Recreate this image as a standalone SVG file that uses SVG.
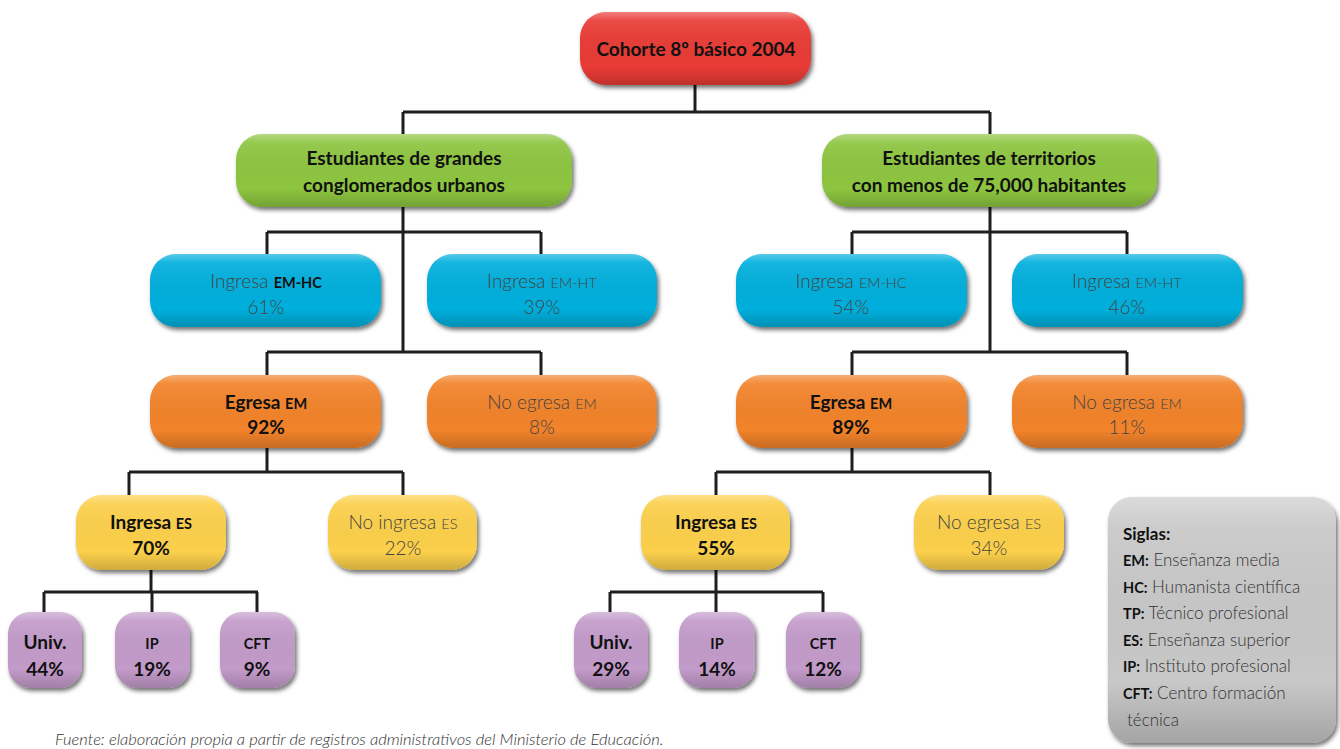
<svg xmlns="http://www.w3.org/2000/svg" width="1340" height="749" viewBox="0 0 1340 749">
<defs>
<filter id="sh" x="-10%" y="-10%" width="125%" height="135%">
<feDropShadow dx="2" dy="3" stdDeviation="2" flood-color="#000" flood-opacity="0.55"/>
</filter>
<linearGradient id="gloss" x1="0" y1="0" x2="0" y2="1">
<stop offset="0" stop-color="#fff" stop-opacity="0.35"/>
<stop offset="0.12" stop-color="#fff" stop-opacity="0.08"/>
<stop offset="0.75" stop-color="#000" stop-opacity="0"/>
<stop offset="1" stop-color="#000" stop-opacity="0.18"/>
</linearGradient>
</defs>
<style>
.c{fill:none;stroke:#1e1e1e;stroke-width:3}
.red{fill:#e93a36}.grn{fill:#8dc540}.blu{fill:#00afdc}.org{fill:#f2832b}.yel{fill:#fcd04b}.pur{fill:#c39bca}.gry{fill:#c8c8c8}
.g{fill:url(#gloss)}
text{font-family:Lato,"Open Sans","Liberation Sans",sans-serif;text-anchor:middle}
.b{font-weight:700;font-size:19px;fill:#111}
.l{font-weight:300;font-size:19px;fill:#444}
.sc{font-size:14.5px}
.lg{text-anchor:start;font-size:17px;font-weight:300;fill:#333}
.lgb{font-weight:700;fill:#111}
.ft{font-style:italic;font-weight:300;font-size:16.5px;fill:#333;text-anchor:start}
</style>
<g id="connectors">
<path class="c" d="M695 85V112M403 112H990M403 112V134M990 112V134"/>
<path class="c" d="M403 207V352M267 232H541M267 232V254M541 232V254M267 352H541M267 352V375M541 352V375"/>
<path class="c" d="M990 207V352M852 232H1127M852 232V254M1127 232V254M852 352H1127M852 352V375M1127 352V375"/>
<path class="c" d="M267 448V472M129 472H403M129 472V495M403 472V495"/>
<path class="c" d="M852 448V472M716 472H990M716 472V495M990 472V495"/>
<path class="c" d="M151 570V592M44 592H258M44 592V612M152 592V612M257 592V612"/>
<path class="c" d="M716 570V592M610 592H823M610 592V612M716 592V612M823 592V612"/>
</g>
<g id="n-cohorte"><rect class="red" x="580" y="12" width="231" height="73" rx="26" filter="url(#sh)"/><rect class="g" x="580" y="12" width="231" height="73" rx="26"/><text class="b" x="696" y="56">Cohorte 8º básico 2004</text></g>
<g id="n-urbanos"><rect class="grn" x="236" y="134" width="336" height="73" rx="26" filter="url(#sh)"/><rect class="g" x="236" y="134" width="336" height="73" rx="26"/><text class="b" x="404" y="165">Estudiantes de grandes</text><text class="b" x="404" y="192">conglomerados urbanos</text></g>
<g id="n-territorios"><rect class="grn" x="822" y="134" width="335" height="73" rx="26" filter="url(#sh)"/><rect class="g" x="822" y="134" width="335" height="73" rx="26"/><text class="b" x="989" y="165">Estudiantes de territorios</text><text class="b" x="989" y="192">con menos de 75,000 habitantes</text></g>
<g id="n-u-hc"><rect class="blu" x="150" y="254" width="231" height="73" rx="26" filter="url(#sh)"/><rect class="g" x="150" y="254" width="231" height="73" rx="26"/><text class="l" x="266" y="288">Ingresa <tspan class="sc" font-weight="700" fill="#111">EM-HC</tspan></text><text class="l" x="266" y="314">61%</text></g>
<g id="n-u-ht"><rect class="blu" x="427" y="254" width="230" height="73" rx="26" filter="url(#sh)"/><rect class="g" x="427" y="254" width="230" height="73" rx="26"/><text class="l" x="542" y="288">Ingresa <tspan class="sc">EM-HT</tspan></text><text class="l" x="542" y="314">39%</text></g>
<g id="n-t-hc"><rect class="blu" x="736" y="254" width="231" height="73" rx="26" filter="url(#sh)"/><rect class="g" x="736" y="254" width="231" height="73" rx="26"/><text class="l" x="851" y="288">Ingresa <tspan class="sc">EM-HC</tspan></text><text class="l" x="851" y="314">54%</text></g>
<g id="n-t-ht"><rect class="blu" x="1012" y="254" width="231" height="73" rx="26" filter="url(#sh)"/><rect class="g" x="1012" y="254" width="231" height="73" rx="26"/><text class="l" x="1127" y="288">Ingresa <tspan class="sc">EM-HT</tspan></text><text class="l" x="1127" y="314">46%</text></g>
<g id="n-u-egresa"><rect class="org" x="150" y="375" width="231" height="73" rx="26" filter="url(#sh)"/><rect class="g" x="150" y="375" width="231" height="73" rx="26"/><text class="b" x="266" y="409">Egresa <tspan class="sc">EM</tspan></text><text class="b" x="266" y="434">92%</text></g>
<g id="n-u-noegresa"><rect class="org" x="427" y="375" width="230" height="73" rx="26" filter="url(#sh)"/><rect class="g" x="427" y="375" width="230" height="73" rx="26"/><text class="l" x="542" y="409">No egresa <tspan class="sc">EM</tspan></text><text class="l" x="542" y="434">8%</text></g>
<g id="n-t-egresa"><rect class="org" x="736" y="375" width="231" height="73" rx="26" filter="url(#sh)"/><rect class="g" x="736" y="375" width="231" height="73" rx="26"/><text class="b" x="851" y="409">Egresa <tspan class="sc">EM</tspan></text><text class="b" x="851" y="434">89%</text></g>
<g id="n-t-noegresa"><rect class="org" x="1012" y="375" width="231" height="73" rx="26" filter="url(#sh)"/><rect class="g" x="1012" y="375" width="231" height="73" rx="26"/><text class="l" x="1127" y="409">No egresa <tspan class="sc">EM</tspan></text><text class="l" x="1127" y="434">11%</text></g>
<g id="n-u-ingresa-es"><rect class="yel" x="76" y="495" width="150" height="75" rx="26" filter="url(#sh)"/><rect class="g" x="76" y="495" width="150" height="75" rx="26"/><text class="b" x="151" y="529">Ingresa <tspan class="sc">ES</tspan></text><text class="b" x="151" y="555">70%</text></g>
<g id="n-u-noingresa-es"><rect class="yel" x="328" y="495" width="149" height="75" rx="26" filter="url(#sh)"/><rect class="g" x="328" y="495" width="149" height="75" rx="26"/><text class="l" x="403" y="529">No ingresa <tspan class="sc">ES</tspan></text><text class="l" x="403" y="555">22%</text></g>
<g id="n-t-ingresa-es"><rect class="yel" x="641" y="495" width="149" height="75" rx="26" filter="url(#sh)"/><rect class="g" x="641" y="495" width="149" height="75" rx="26"/><text class="b" x="716" y="529">Ingresa <tspan class="sc">ES</tspan></text><text class="b" x="716" y="555">55%</text></g>
<g id="n-t-noegresa-es"><rect class="yel" x="914" y="495" width="150" height="75" rx="26" filter="url(#sh)"/><rect class="g" x="914" y="495" width="150" height="75" rx="26"/><text class="l" x="989" y="529">No egresa <tspan class="sc">ES</tspan></text><text class="l" x="989" y="555">34%</text></g>
<g id="n-u-univ"><rect class="pur" x="8" y="612" width="74" height="76" rx="22" filter="url(#sh)"/><rect class="g" x="8" y="612" width="74" height="76" rx="22"/><text class="b" x="45" y="649">Univ.</text><text class="b" x="45" y="676">44%</text></g>
<g id="n-u-ip"><rect class="pur" x="115" y="612" width="75" height="76" rx="22" filter="url(#sh)"/><rect class="g" x="115" y="612" width="75" height="76" rx="22"/><text class="b" x="152" y="649"><tspan class="sc">IP</tspan></text><text class="b" x="152" y="676">19%</text></g>
<g id="n-u-cft"><rect class="pur" x="220" y="612" width="75" height="76" rx="22" filter="url(#sh)"/><rect class="g" x="220" y="612" width="75" height="76" rx="22"/><text class="b" x="257" y="649"><tspan class="sc">CFT</tspan></text><text class="b" x="257" y="676">9%</text></g>
<g id="n-t-univ"><rect class="pur" x="574" y="612" width="74" height="76" rx="22" filter="url(#sh)"/><rect class="g" x="574" y="612" width="74" height="76" rx="22"/><text class="b" x="611" y="649">Univ.</text><text class="b" x="611" y="676">29%</text></g>
<g id="n-t-ip"><rect class="pur" x="679" y="612" width="76" height="76" rx="22" filter="url(#sh)"/><rect class="g" x="679" y="612" width="76" height="76" rx="22"/><text class="b" x="717" y="649"><tspan class="sc">IP</tspan></text><text class="b" x="717" y="676">14%</text></g>
<g id="n-t-cft"><rect class="pur" x="786" y="612" width="74" height="76" rx="22" filter="url(#sh)"/><rect class="g" x="786" y="612" width="74" height="76" rx="22"/><text class="b" x="823" y="649"><tspan class="sc">CFT</tspan></text><text class="b" x="823" y="676">12%</text></g>
<g id="legend"><rect class="gry" x="1108" y="497" width="228" height="246" rx="24" filter="url(#sh)"/><rect class="g" x="1108" y="497" width="228" height="246" rx="24"/>
<text class="lg" x="1123" y="540"><tspan class="lgb">Siglas:</tspan></text>
<text class="lg" x="1123" y="566"><tspan class="lgb sc">EM:</tspan> Enseñanza media</text>
<text class="lg" x="1123" y="593"><tspan class="lgb sc">HC:</tspan> Humanista científica</text>
<text class="lg" x="1123" y="619"><tspan class="lgb sc">TP:</tspan> Técnico profesional</text>
<text class="lg" x="1123" y="646"><tspan class="lgb sc">ES:</tspan> Enseñanza superior</text>
<text class="lg" x="1123" y="672"><tspan class="lgb sc">IP:</tspan> Instituto profesional</text>
<text class="lg" x="1123" y="699"><tspan class="lgb sc">CFT:</tspan> Centro formación</text>
<text class="lg" x="1127" y="726">técnica</text>
</g>
<text class="ft" x="55" y="745">Fuente: elaboración propia a partir de registros administrativos del Ministerio de Educación.</text>
</svg>
